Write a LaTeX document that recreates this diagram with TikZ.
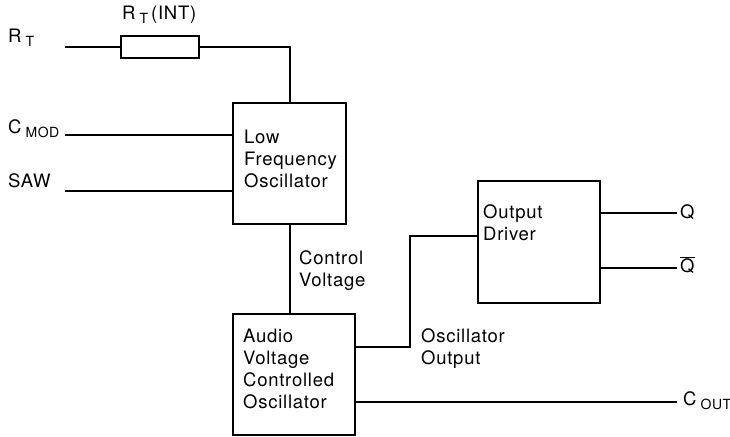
\documentclass[tikz,border=0pt]{standalone}
\usepackage{fontspec}
\setmainfont[LetterSpace=4]{TeX Gyre Heros}
\usetikzlibrary{positioning,calc}
\tikzset{
  blk/.style={draw, line width=2pt, anchor=north west, inner sep=0pt},
  wire/.style={line width=2pt},
  txt/.style={font=\fontsize{18.5}{22}\selectfont, align=left, inner sep=0pt},
}
\newcommand{\lsub}[1]{\hspace{4pt}\raisebox{-4pt}{\fontsize{14}{14}\selectfont #1}}

\begin{document}
\begin{tikzpicture}[x=1pt, y=-1pt]
  \useasboundingbox (0,0) rectangle (730,436);
  % blocks
  \node[blk, minimum width=113, minimum height=121] (lfo) at (232,102) {};
  \node[blk, minimum width=122, minimum height=121] (vco) at (232,313) {};
  \node[blk, minimum width=122, minimum height=122] (drv) at (477,180) {};
  \node[draw, line width=2pt, minimum width=78, minimum height=22, inner sep=0pt] (rint) at (160,47) {};
  % block texts (anchored at the last baseline)
  \node[txt, anchor=base west] (lfotxt) at (244,187) {Low\\Frequency\\Oscillator};
  \node[txt, anchor=base west] (vcotxt) at (243,408) {Audio\\Voltage\\Controlled\\Oscillator};
  \node[txt, anchor=base west] (drvtxt) at (483,240) {Output\\Driver};
  % pins
  \coordinate (rt) at (65,47);
  \coordinate (cmod) at (65,135);
  \coordinate (saw) at (65,191);
  \coordinate (qo) at (677,213);
  \coordinate (qbo) at (677,268);
  \coordinate (cout) at (677,402);
  \node[txt, anchor=base west] (rtlbl) at (8,42) {R\lsub{T}};
  \node[txt, anchor=base west] (rintlbl) at (122,20) {R\lsub{T}\,(INT)};
  \node[txt, anchor=base west] (cmodlbl) at (8,133) {C\lsub{MOD}};
  \node[txt, anchor=base west] (sawlbl) at (8,187) {SAW};
  \node[txt, anchor=base west] (qlbl) at (680,218) {Q};
  \node[txt, anchor=base west] (qblbl) at (680,272) {$\overline{\mbox{Q}}$};
  \node[txt, anchor=base west] (coutlbl) at (683,405) {C\lsub{OUT}};
  \node[txt, anchor=base west] (cvlbl) at (299,286) {Control\\Voltage};
  \node[txt, anchor=base west] (oolbl) at (421,364) {Oscillator\\Output};
  % wires
  \draw[wire] (rt) -- (rint.west);
  \draw[wire] (rint.east) -| (lfo.north);
  \draw[wire] (cmod) -- (cmod -| lfo.west);
  \draw[wire] (saw) -- (saw -| lfo.west);
  \draw[wire] (lfo.south) -- (lfo.south |- vco.north);
  \draw[wire] ($(vco.north east)+(0,34)$) -| ($(drv.north west)+(-67,56)$) -- ($(drv.north west)+(0,56)$);
  \draw[wire] (drv.east |- qo) -- (qo);
  \draw[wire] (drv.east |- qbo) -- (qbo);
  \draw[wire] (vco.east |- cout) -- (cout);
\end{tikzpicture}
\end{document}
